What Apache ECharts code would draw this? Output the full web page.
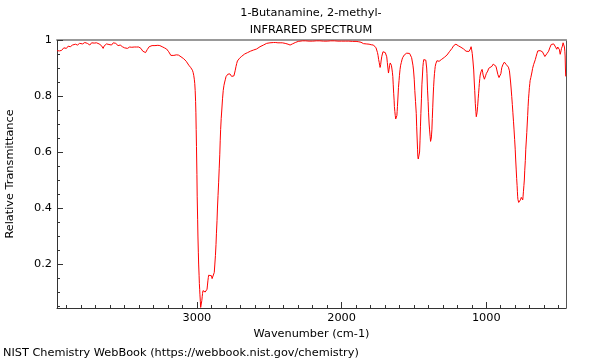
<!DOCTYPE html>
<html><head><meta charset="utf-8">
<script src="https://cdn.jsdelivr.net/npm/echarts@6/dist/echarts.min.js"></script>
<style>html,body{margin:0;padding:0;background:#fff}#c{width:600px;height:360px}</style>
</head><body><div id="c"></div>
<script>
const titleLines = ["1-Butanamine, 2-methyl-", "INFRARED SPECTRUM"];
const footer = "NIST Chemistry WebBook (https://webbook.nist.gov/chemistry)";
const xName = "Wavenumber (cm-1)";
const yName = "Relative Transmittance";
const xMajorTicks = [1000, 2000, 3000];
const xMinorTicks = [500,600,700,800,900,1100,1200,1300,1400,1500,1600,1700,1800,1900,2100,2200,2300,2400,2500,2600,2700,2800,2900,3100,3200,3300,3400,3500,3600,3700,3800,3900];
const yMajorTicks = [0.2, 0.4, 0.6, 0.8, 1];
const yMinorTicks = [0.05,0.1,0.15,0.25,0.3,0.35,0.45,0.5,0.55,0.65,0.7,0.75,0.85,0.9,0.95];

const wavenumber = [3966,3960,3955,3950,3945,3940,3935,3930,3925,3920,3915,3908,3902,3895,3890,3882,3875,3868,3860,3853,3848,3840,3832,3825,3818,3811,3805,3798,3790,3783,3775,3769,3763,3757,3752,3746,3740,3734,3728,3721,3715,3710,3705,3699,3694,3688,3682,3676,3670,3665,3660,3654,3648,3642,3636,3630,3625,3619,3614,3608,3602,3596,3590,3584,3578,3572,3566,3561,3556,3550,3545,3537,3530,3522,3515,3507,3500,3493,3487,3480,3472,3465,3458,3450,3441,3433,3425,3418,3410,3402,3394,3387,3380,3374,3368,3361,3355,3349,3343,3336,3330,3320,3310,3300,3290,3280,3270,3263,3256,3248,3240,3232,3225,3218,3210,3202,3195,3187,3180,3174,3168,3159,3150,3142,3135,3127,3120,3110,3100,3091,3083,3074,3065,3056,3048,3042,3037,3031,3026,3022,3018,3015,3012,3009,3007,3005,3003,3000,2998,2995,2993,2990,2988,2985,2983,2981,2979,2976,2974,2972,2970,2968,2966,2963,2961,2958,2956,2953,2950,2946,2943,2939,2936,2933,2930,2927,2924,2921,2919,2915,2912,2907,2903,2899,2895,2891,2887,2883,2880,2876,2872,2868,2865,2861,2858,2854,2850,2846,2842,2839,2836,2832,2828,2823,2818,2813,2808,2803,2799,2792,2786,2779,2772,2766,2760,2754,2749,2744,2740,2735,2730,2725,2720,2712,2705,2697,2690,2680,2670,2660,2650,2640,2630,2620,2610,2598,2587,2575,2564,2552,2540,2529,2518,2506,2495,2482,2470,2455,2440,2425,2410,2400,2390,2380,2370,2363,2356,2348,2340,2330,2320,2310,2300,2293,2287,2270,2250,2225,2200,2175,2150,2125,2100,2075,2050,2025,2000,1975,1950,1925,1900,1885,1872,1866,1860,1855,1849,1840,1830,1820,1810,1802,1795,1787,1780,1774,1768,1762,1757,1752,1748,1744,1740,1737,1734,1730,1727,1722,1718,1714,1710,1707,1704,1701,1698,1695,1692,1688,1684,1680,1676,1672,1668,1664,1660,1656,1653,1649,1646,1643,1640,1637,1635,1632,1629,1626,1623,1620,1618,1616,1614,1610,1607,1603,1600,1596,1592,1587,1583,1578,1572,1566,1561,1555,1550,1544,1538,1534,1530,1525,1521,1516,1512,1507,1503,1498,1494,1489,1484,1481,1478,1475,1473,1470,1468,1466,1464,1461,1458,1455,1452,1448,1445,1441,1438,1435,1432,1429,1427,1424,1421,1418,1415,1412,1410,1408,1406,1402,1399,1395,1392,1388,1385,1382,1380,1378,1376,1373,1370,1367,1364,1361,1358,1355,1353,1349,1345,1341,1337,1333,1330,1326,1323,1319,1315,1311,1307,1298,1290,1281,1272,1263,1255,1246,1237,1231,1225,1220,1215,1210,1205,1198,1192,1186,1180,1175,1170,1163,1157,1151,1145,1140,1134,1129,1125,1120,1115,1110,1105,1101,1097,1092,1087,1083,1080,1078,1076,1072,1069,1066,1064,1062,1060,1056,1053,1050,1048,1045,1042,1039,1036,1032,1029,1025,1022,1017,1013,1009,1005,1002,999,995,990,986,983,978,974,970,966,961,956,952,948,945,942,939,936,933,930,927,924,920,916,912,908,905,902,899,896,893,890,886,883,879,875,871,867,863,859,855,851,847,844,840,837,832,828,824,820,816,812,808,804,800,797,793,790,787,785,783,781,778,776,773,771,768,766,764,762,760,758,756,755,752,750,748,746,743,740,737,734,730,727,723,720,717,714,711,708,705,702,699,697,694,692,690,689,684,680,677,673,668,664,661,656,650,644,638,633,628,624,620,616,612,608,604,600,595,591,587,583,580,576,573,569,565,561,557,551,545,540,534,530,525,521,517,513,510,506,503,500,497,494,492,489,486,483,480,477,474,471,469,466,463,460,457,455,453,451,450,449];
const transmittance = [0.962,0.958,0.966,0.961,0.960,0.968,0.963,0.966,0.964,0.972,0.968,0.974,0.970,0.976,0.978,0.975,0.976,0.981,0.982,0.977,0.980,0.985,0.986,0.982,0.984,0.988,0.990,0.987,0.986,0.992,0.991,0.995,0.992,0.988,0.985,0.987,0.982,0.986,0.990,0.994,0.986,0.989,0.993,0.996,0.990,0.987,0.984,0.986,0.988,0.985,0.980,0.975,0.970,0.978,0.982,0.984,0.986,0.983,0.980,0.984,0.986,0.990,0.982,0.987,0.990,0.986,0.984,0.988,0.988,0.983,0.980,0.979,0.982,0.978,0.976,0.974,0.972,0.968,0.967,0.970,0.976,0.975,0.972,0.974,0.976,0.975,0.973,0.975,0.976,0.975,0.974,0.970,0.965,0.960,0.958,0.956,0.955,0.959,0.966,0.972,0.976,0.979,0.980,0.980,0.980,0.981,0.981,0.981,0.980,0.978,0.976,0.974,0.972,0.970,0.968,0.963,0.958,0.951,0.945,0.943,0.943,0.945,0.946,0.947,0.948,0.946,0.944,0.940,0.937,0.933,0.929,0.924,0.918,0.910,0.903,0.901,0.899,0.892,0.884,0.874,0.86,0.845,0.82,0.78,0.74,0.68,0.62,0.52,0.44,0.36,0.30,0.24,0.20,0.16,0.13,0.11,0.09,0.065,0.045,0.04,0.04,0.05,0.07,0.085,0.095,0.105,0.11,0.112,0.108,0.104,0.100,0.098,0.098,0.102,0.11,0.125,0.14,0.152,0.16,0.166,0.167,0.166,0.165,0.158,0.148,0.145,0.146,0.155,0.17,0.20,0.23,0.27,0.31,0.355,0.40,0.445,0.49,0.54,0.59,0.64,0.68,0.72,0.75,0.79,0.82,0.838,0.85,0.86,0.869,0.875,0.878,0.880,0.879,0.875,0.870,0.868,0.867,0.872,0.878,0.892,0.905,0.916,0.925,0.930,0.935,0.939,0.942,0.946,0.950,0.952,0.955,0.958,0.960,0.962,0.964,0.966,0.968,0.972,0.976,0.979,0.982,0.985,0.988,0.989,0.990,0.990,0.991,0.991,0.990,0.990,0.990,0.990,0.988,0.986,0.985,0.983,0.982,0.984,0.986,0.989,0.991,0.993,0.995,0.996,0.997,0.997,0.997,0.996,0.996,0.997,0.997,0.996,0.996,0.997,0.997,0.996,0.996,0.996,0.996,0.995,0.995,0.994,0.994,0.992,0.990,0.989,0.987,0.986,0.986,0.986,0.985,0.984,0.983,0.982,0.982,0.980,0.978,0.972,0.966,0.955,0.945,0.93,0.92,0.91,0.902,0.912,0.925,0.942,0.950,0.958,0.962,0.963,0.962,0.958,0.955,0.952,0.950,0.94,0.92,0.90,0.882,0.895,0.91,0.918,0.922,0.91,0.90,0.885,0.869,0.84,0.81,0.785,0.762,0.745,0.73,0.718,0.712,0.72,0.73,0.745,0.762,0.80,0.83,0.855,0.874,0.895,0.91,0.92,0.929,0.937,0.942,0.947,0.950,0.952,0.953,0.954,0.955,0.954,0.952,0.949,0.945,0.937,0.925,0.91,0.893,0.86,0.82,0.78,0.738,0.69,0.65,0.61,0.583,0.575,0.573,0.574,0.577,0.60,0.64,0.69,0.738,0.79,0.84,0.875,0.905,0.92,0.930,0.933,0.935,0.934,0.932,0.928,0.923,0.90,0.88,0.85,0.821,0.78,0.74,0.70,0.679,0.655,0.638,0.642,0.65,0.664,0.679,0.72,0.76,0.80,0.833,0.86,0.88,0.895,0.905,0.915,0.922,0.926,0.929,0.928,0.926,0.924,0.923,0.925,0.928,0.930,0.931,0.935,0.938,0.942,0.946,0.952,0.958,0.964,0.970,0.975,0.980,0.983,0.986,0.985,0.984,0.981,0.979,0.977,0.976,0.974,0.972,0.970,0.968,0.965,0.962,0.960,0.958,0.959,0.960,0.959,0.958,0.968,0.976,0.965,0.952,0.925,0.893,0.85,0.82,0.80,0.774,0.745,0.726,0.73,0.74,0.75,0.762,0.79,0.81,0.83,0.845,0.862,0.875,0.882,0.887,0.893,0.895,0.885,0.875,0.868,0.860,0.866,0.872,0.877,0.881,0.886,0.889,0.895,0.899,0.900,0.901,0.902,0.902,0.906,0.910,0.914,0.917,0.919,0.916,0.912,0.911,0.906,0.900,0.893,0.887,0.877,0.870,0.866,0.865,0.868,0.873,0.880,0.890,0.901,0.906,0.911,0.915,0.918,0.921,0.919,0.916,0.913,0.913,0.911,0.906,0.903,0.897,0.89,0.875,0.85,0.825,0.798,0.77,0.74,0.71,0.679,0.645,0.61,0.575,0.536,0.505,0.48,0.46,0.44,0.43,0.425,0.42,0.417,0.419,0.423,0.426,0.429,0.432,0.435,0.438,0.440,0.436,0.432,0.430,0.429,0.44,0.46,0.48,0.50,0.535,0.57,0.61,0.643,0.67,0.70,0.73,0.762,0.79,0.81,0.83,0.845,0.855,0.860,0.866,0.872,0.874,0.886,0.898,0.905,0.912,0.917,0.919,0.93,0.94,0.951,0.961,0.962,0.958,0.962,0.967,0.965,0.962,0.958,0.955,0.950,0.945,0.941,0.937,0.943,0.948,0.952,0.957,0.958,0.960,0.967,0.972,0.978,0.984,0.990,0.988,0.986,0.984,0.980,0.975,0.971,0.967,0.971,0.975,0.978,0.980,0.974,0.965,0.957,0.949,0.955,0.962,0.970,0.975,0.978,0.985,0.990,0.996,0.990,0.975,0.96,0.943,0.90,0.87];

const X_MIN = 449, X_MAX = 3967, Y_MIN = 0.043, Y_MAX = 1;
const FONT = 'DejaVu Sans';
const FS = 11.3;
const chart = echarts.init(document.getElementById('c'), null, {renderer: 'canvas'});
const pts = wavenumber.map((w, i) => [w, transmittance[i]]);
const dark = '#333';
chart.setOption({
  animation: false,
  backgroundColor: '#fff',
  textStyle: {fontFamily: FONT},
  grid: {left: 57, right: 34, top: 40, bottom: 52, containLabel: false, outerBoundsMode: 'none'},
  graphic: [
    {type: 'text', x: 311, y: 13, style: {text: titleLines[0], fontFamily: FONT, fontSize: FS, fill: '#000', align: 'center', verticalAlign: 'middle'}},
    {type: 'text', x: 311, y: 30, style: {text: titleLines[1], fontFamily: FONT, fontSize: FS, fill: '#000', align: 'center', verticalAlign: 'middle'}},
    {type: 'text', x: 3, y: 353, style: {text: footer, fontFamily: FONT, fontSize: FS, fill: '#000', align: 'left', verticalAlign: 'middle'}}
  ],
  xAxis: [
    {type: 'value', inverse: true, min: X_MIN, max: X_MAX, position: 'bottom',
     axisLine: {show: true, lineStyle: {color: dark, width: 1}},
     axisTick: {show: true, inside: true, length: 6, customValues: xMajorTicks, lineStyle: {color: dark}},
     axisLabel: {show: true, customValues: xMajorTicks, color: '#000', fontSize: FS, fontFamily: FONT, margin: 5, formatter: v => String(v)},
     splitLine: {show: false},
     name: xName, nameLocation: 'middle', nameGap: 19, nameTextStyle: {color: '#000', fontSize: FS, fontFamily: FONT}},
    {type: 'value', inverse: true, min: X_MIN, max: X_MAX, position: 'bottom',
     axisLine: {show: false},
     axisTick: {show: true, inside: true, length: 3, customValues: xMinorTicks, lineStyle: {color: dark}},
     axisLabel: {show: false}, splitLine: {show: false}},
    {type: 'value', inverse: true, min: X_MIN, max: X_MAX, position: 'top',
     axisLine: {show: true, lineStyle: {color: '#999', width: 2}},
     axisTick: {show: false}, axisLabel: {show: false}, splitLine: {show: false}}
  ],
  yAxis: [
    {type: 'value', min: Y_MIN, max: Y_MAX, position: 'left',
     axisLine: {show: true, lineStyle: {color: dark, width: 1}},
     axisTick: {show: true, inside: true, length: 6, customValues: yMajorTicks, lineStyle: {color: dark}},
     axisLabel: {show: true, customValues: yMajorTicks, color: '#000', fontSize: FS, fontFamily: FONT, margin: 5, formatter: v => String(v)},
     splitLine: {show: false},
     name: yName, nameLocation: 'middle', nameRotate: 90, nameGap: 41, nameTextStyle: {color: '#000', fontSize: FS, fontFamily: FONT}},
    {type: 'value', min: Y_MIN, max: Y_MAX, position: 'left',
     axisLine: {show: false},
     axisTick: {show: true, inside: true, length: 3, customValues: yMinorTicks, lineStyle: {color: dark}},
     axisLabel: {show: false}, splitLine: {show: false}},
    {type: 'value', min: Y_MIN, max: Y_MAX, position: 'right',
     axisLine: {show: true, lineStyle: {color: '#555', width: 1}},
     axisTick: {show: false}, axisLabel: {show: false}, splitLine: {show: false}}
  ],
  series: [{
    type: 'line', xAxisIndex: 0, yAxisIndex: 0, data: pts, showSymbol: false, symbol: 'none',
    smooth: false, clip: true, lineStyle: {color: '#ff0000', width: 1}, z: 1
  }]
});
</script></body></html>
